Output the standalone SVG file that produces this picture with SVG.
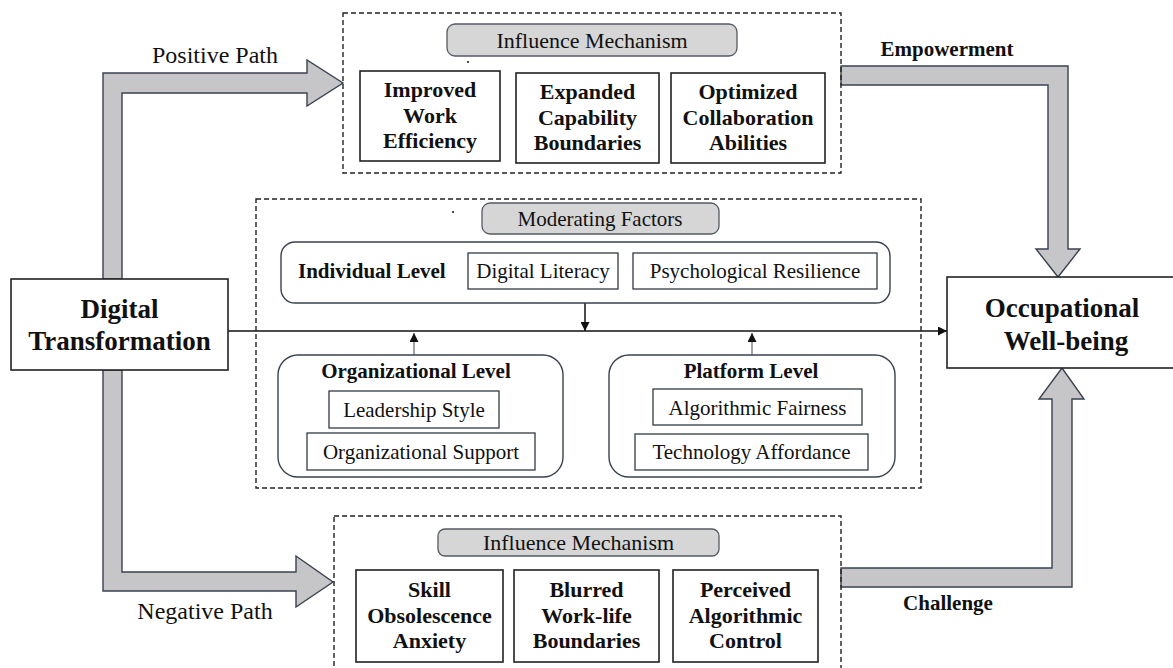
<svg xmlns="http://www.w3.org/2000/svg" width="1173" height="668" viewBox="0 0 1173 668">
  <defs>
    <marker id="tip" viewBox="0 0 10 10" refX="10" refY="5" markerWidth="9" markerHeight="9" markerUnits="userSpaceOnUse" orient="auto">
      <path d="M0,0 L10,5 L0,10 z" fill="#111"/>
    </marker>
    <style>
      .dash { fill: none; stroke: #222; stroke-width: 1.4; stroke-dasharray: 5 3; }
      .box { fill: #fff; stroke: #222; stroke-width: 1.6; }
      .sub { fill: #fff; stroke: #333a44; stroke-width: 1.3; }
      .grp { fill: #fff; stroke: #3a4250; stroke-width: 1.4; }
      .pill { fill: #d6d6d6; stroke: #555b63; stroke-width: 1.3; }
      .big { fill: #c6c6c8; stroke: #3a4150; stroke-width: 1.4; stroke-linejoin: miter; }
      .t { font-family: "Liberation Serif", "Times New Roman", serif; fill: #111; }
      .reg { font-size: 21px; }
      .b { font-weight: bold; }
      .c { text-anchor: middle; }
      .line { stroke: #111; stroke-width: 1.5; fill: none; }
      .thin { stroke: #666; stroke-width: 1.2; fill: none; }
    </style>
  </defs>
  <rect width="1173" height="668" fill="#fff"/>

  <!-- thick path arrows -->
  <g id="connectors">
    <polygon class="big" points="103,279 103,73 307,73 307,60 343,83 307,106 307,93 122,93 122,279"/>
    <polygon class="big" points="103,370 103,591 296,591 296,607 333,582 296,556 296,572 122,572 122,370"/>
    <polygon class="big" points="841,66 1068,66 1068,249 1080,249 1058,277 1036,249 1048,249 1048,85 841,85"/>
    <polygon class="big" points="841,568 1052,568 1052,399 1039,399 1062,368 1084,399 1072,399 1072,587 841,587"/>
    <line class="line" x1="228" y1="331" x2="947" y2="331" marker-end="url(#tip)"/>
    <line class="line" x1="585" y1="303" x2="585" y2="331" marker-end="url(#tip)"/>
    <line class="thin" x1="414" y1="355" x2="414" y2="333" marker-end="url(#tip)"/>
    <line class="thin" x1="752" y1="355" x2="752" y2="333" marker-end="url(#tip)"/>
  </g>

  <!-- path labels -->
  <g id="labels">
    <text class="t c" x="215" y="63" font-size="24">Positive Path</text>
    <text class="t c" x="205" y="619" font-size="24">Negative Path</text>
    <text class="t c b" x="947" y="56" font-size="21">Empowerment</text>
    <text class="t c b" x="948" y="610" font-size="21">Challenge</text>
  </g>

  <g id="digital-transformation">
    <rect class="box" x="11" y="279" width="217" height="91"/>
    <text class="t c b" x="119.5" y="318" font-size="27">Digital</text>
    <text class="t c b" x="119.5" y="350" font-size="27">Transformation</text>
  </g>

  <g id="occupational-wellbeing">
    <rect class="box" x="947" y="277" width="240" height="91"/>
    <text class="t c b" x="1062" y="317" font-size="27">Occupational</text>
    <text class="t c b" x="1066" y="350" font-size="27">Well-being</text>
  </g>

  <!-- positive influence mechanism -->
  <g id="positive-mechanism">
    <rect class="dash" x="343" y="13" width="498" height="160"/>
    <rect class="pill" x="447" y="24" width="290" height="32" rx="8"/>
    <text class="t c" x="592" y="48" font-size="22">Influence Mechanism</text>
    <circle cx="468" cy="62" r="1.1" fill="#222"/>
    <rect class="box" x="360" y="71" width="140" height="90"/>
    <text class="t c b" x="430" y="97" font-size="22">Improved</text>
    <text class="t c b" x="430" y="123" font-size="22">Work</text>
    <text class="t c b" x="430" y="148" font-size="22">Efficiency</text>
    <rect class="box" x="516" y="73" width="143" height="90"/>
    <text class="t c b" x="587.5" y="99" font-size="22">Expanded</text>
    <text class="t c b" x="587.5" y="125" font-size="22">Capability</text>
    <text class="t c b" x="587.5" y="150" font-size="22">Boundaries</text>
    <rect class="box" x="671" y="73" width="154" height="90"/>
    <text class="t c b" x="748" y="99" font-size="22">Optimized</text>
    <text class="t c b" x="748" y="125" font-size="22">Collaboration</text>
    <text class="t c b" x="748" y="150" font-size="22">Abilities</text>
  </g>

  <!-- moderating factors -->
  <g id="moderating-factors">
    <rect class="dash" x="256" y="199" width="665" height="289" stroke-width="1.2"/>
    <rect class="pill" x="482" y="203" width="237" height="31" rx="8"/>
    <text class="t c reg" x="600" y="226">Moderating Factors</text>
    <circle cx="453" cy="212" r="1.1" fill="#222"/>
  </g>

  <g id="individual-level">
    <rect class="grp" x="281" y="242" width="609" height="61" rx="14"/>
    <text class="t b reg" x="298" y="278">Individual Level</text>
    <rect class="sub" x="468" y="253" width="150" height="36"/>
    <text class="t c reg" x="543" y="278">Digital Literacy</text>
    <rect class="sub" x="633" y="253" width="244" height="36"/>
    <text class="t c reg" x="755" y="278">Psychological Resilience</text>
  </g>

  <g id="organizational-level">
    <rect class="grp" x="278" y="355" width="285" height="122" rx="20"/>
    <text class="t c b reg" x="416" y="378">Organizational Level</text>
    <rect class="sub" x="329" y="391" width="170" height="37"/>
    <text class="t c reg" x="414" y="417">Leadership Style</text>
    <rect class="sub" x="307" y="433" width="228" height="37"/>
    <text class="t c reg" x="421" y="459">Organizational Support</text>
  </g>

  <g id="platform-level">
    <rect class="grp" x="609" y="355" width="286" height="122" rx="20"/>
    <text class="t c b reg" x="751" y="378">Platform Level</text>
    <rect class="sub" x="653" y="389" width="209" height="36"/>
    <text class="t c reg" x="757.5" y="415">Algorithmic Fairness</text>
    <rect class="sub" x="635" y="434" width="233" height="36"/>
    <text class="t c reg" x="751.5" y="459">Technology Affordance</text>
  </g>

  <!-- negative influence mechanism -->
  <g id="negative-mechanism">
    <rect class="dash" x="334" y="516" width="507" height="160"/>
    <rect class="pill" x="438" y="529" width="281" height="27" rx="7"/>
    <text class="t c" x="578.5" y="550" font-size="22">Influence Mechanism</text>
    <rect class="box" x="356" y="570" width="147" height="92"/>
    <text class="t c b" x="429.5" y="597" font-size="22">Skill</text>
    <text class="t c b" x="429.5" y="623" font-size="22">Obsolescence</text>
    <text class="t c b" x="429.5" y="648" font-size="22">Anxiety</text>
    <rect class="box" x="514" y="570" width="145" height="92"/>
    <text class="t c b" x="586.5" y="597" font-size="22">Blurred</text>
    <text class="t c b" x="586.5" y="623" font-size="22">Work-life</text>
    <text class="t c b" x="586.5" y="648" font-size="22">Boundaries</text>
    <rect class="box" x="673" y="570" width="145" height="92"/>
    <text class="t c b" x="745.5" y="597" font-size="22">Perceived</text>
    <text class="t c b" x="745.5" y="623" font-size="22">Algorithmic</text>
    <text class="t c b" x="745.5" y="648" font-size="22">Control</text>
  </g>
</svg>
